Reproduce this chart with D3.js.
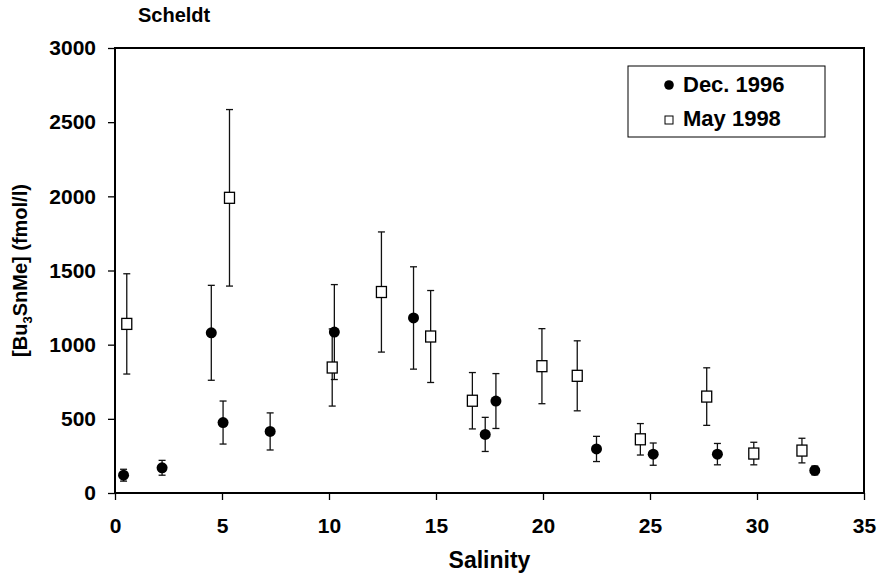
<!DOCTYPE html>
<html>
<head>
<meta charset="utf-8">
<script src="https://cdn.jsdelivr.net/npm/d3@7"></script>
<style>
  body { margin: 0; background: #fff; }
  svg text { font-family: "Liberation Sans", Arial, sans-serif; font-weight: bold; fill: #000; }
</style>
</head>
<body>
<script>
// Dec. 1996 series: salinity, [Bu3SnMe] (fmol/l), error (+/-)
const decSal = [0.4, 2.2, 4.5, 5.05, 7.25, 10.25, 13.95, 17.3, 17.8, 22.5, 25.15, 28.15, 32.7];
const decVal = [120, 170, 1080, 475, 415, 1085, 1180, 395, 620, 297, 262, 262, 152];
const decErr = [40, 50, 320, 145, 125, 320, 345, 115, 185, 85, 75, 72, 30];

// May 1998 series
const maySal = [0.55, 5.35, 10.15, 12.45, 14.75, 16.7, 19.95, 21.6, 24.55, 27.65, 29.85, 32.1];
const mayVal = [1140, 1990, 846, 1355, 1055, 622, 855, 790, 362, 650, 266, 286];
const mayErr = [338, 595, 260, 405, 310, 190, 253, 236, 106, 194, 76, 83];

const xTicks = [0, 5, 10, 15, 20, 25, 30, 35];
const yTicks = [0, 500, 1000, 1500, 2000, 2500, 3000];
const seriesNames = ["Dec. 1996", "May 1998"];

const width = 883, height = 577;
const margin = {top: 48, right: 19, bottom: 84, left: 115};

const svg = d3.select("body").append("svg")
    .attr("width", width)
    .attr("height", height);

const x = d3.scaleLinear().domain([0, 35]).range([margin.left, width - margin.right]);
const y = d3.scaleLinear().domain([0, 3000]).range([height - margin.bottom, margin.top]);

// axes
const xAxis = svg.append("g")
    .attr("transform", "translate(0," + y(0) + ")")
    .call(d3.axisBottom(x).tickValues(xTicks).tickFormat(d3.format("d"))
      .tickSize(7).tickSizeOuter(0).tickPadding(18));
const yAxis = svg.append("g")
    .attr("transform", "translate(" + x(0) + ",0)")
    .call(d3.axisLeft(y).tickValues(yTicks).tickFormat(d3.format("d"))
      .tickSize(7).tickSizeOuter(0).tickPadding(12));

[xAxis, yAxis].forEach(g => {
  g.select(".domain").remove();
  g.selectAll(".tick line").attr("stroke", "#000").attr("stroke-width", 1.3);
  g.selectAll(".tick text").style("font-size", "21px");
});

// plot frame
svg.append("rect")
    .attr("x", x(0)).attr("y", y(3000))
    .attr("width", x(35) - x(0)).attr("height", y(0) - y(3000))
    .attr("fill", "none").attr("stroke", "#000").attr("stroke-width", 2);

// titles
svg.append("text").attr("x", 138).attr("y", 22).style("font-size", "20px").text("Scheldt");

svg.append("text")
    .attr("x", (x(0) + x(35)) / 2).attr("y", 568)
    .attr("text-anchor", "middle").style("font-size", "23px")
    .text("Salinity");

const yl = svg.append("text")
    .attr("transform", "translate(27," + (y(0) + y(3000)) / 2 + ") rotate(-90)")
    .attr("text-anchor", "middle").style("font-size", "20px");
yl.append("tspan").text("[Bu");
yl.append("tspan").attr("dy", 5).style("font-size", "13px").text("3");
yl.append("tspan").attr("dy", -5).text("SnMe] (fmol/l)");

// data rows
const dec = decSal.map((s, i) => ({s: s, v: decVal[i], e: decErr[i]}));
const may = maySal.map((s, i) => ({s: s, v: mayVal[i], e: mayErr[i]}));

function errorBars(data) {
  const g = svg.append("g").attr("stroke", "#111").attr("stroke-width", 1.3);
  g.selectAll(".bar").data(data).enter().append("line")
      .attr("x1", d => x(d.s)).attr("x2", d => x(d.s))
      .attr("y1", d => y(d.v - d.e)).attr("y2", d => y(d.v + d.e));
  g.selectAll(".capTop").data(data).enter().append("line")
      .attr("x1", d => x(d.s) - 3.5).attr("x2", d => x(d.s) + 3.5)
      .attr("y1", d => y(d.v + d.e)).attr("y2", d => y(d.v + d.e));
  g.selectAll(".capBot").data(data).enter().append("line")
      .attr("x1", d => x(d.s) - 3.5).attr("x2", d => x(d.s) + 3.5)
      .attr("y1", d => y(d.v - d.e)).attr("y2", d => y(d.v - d.e));
}
errorBars(dec);
errorBars(may);

svg.append("g").selectAll("circle").data(dec).enter().append("circle")
    .attr("cx", d => x(d.s)).attr("cy", d => y(d.v)).attr("r", 5.5)
    .attr("fill", "#000");

svg.append("g").selectAll("rect").data(may).enter().append("rect")
    .attr("x", d => x(d.s) - 5).attr("y", d => y(d.v) - 5.5)
    .attr("width", 10).attr("height", 11)
    .attr("fill", "#fff").attr("stroke", "#000").attr("stroke-width", 1.3);

// legend
const lg = svg.append("g");
lg.append("rect").attr("x", 628).attr("y", 66).attr("width", 197).attr("height", 71)
    .attr("fill", "#fff").attr("stroke", "#000").attr("stroke-width", 1);
lg.append("circle").attr("cx", 669).attr("cy", 85).attr("r", 4.8).attr("fill", "#000");
lg.append("rect").attr("x", 665).attr("y", 116).attr("width", 8).attr("height", 8)
    .attr("fill", "#fff").attr("stroke", "#000").attr("stroke-width", 1);
lg.selectAll(".lab").data(seriesNames).enter().append("text")
    .attr("x", 683).attr("y", (d, i) => 92 + i * 34)
    .style("font-size", "22px").text(d => d);
</script>
</body>
</html>
